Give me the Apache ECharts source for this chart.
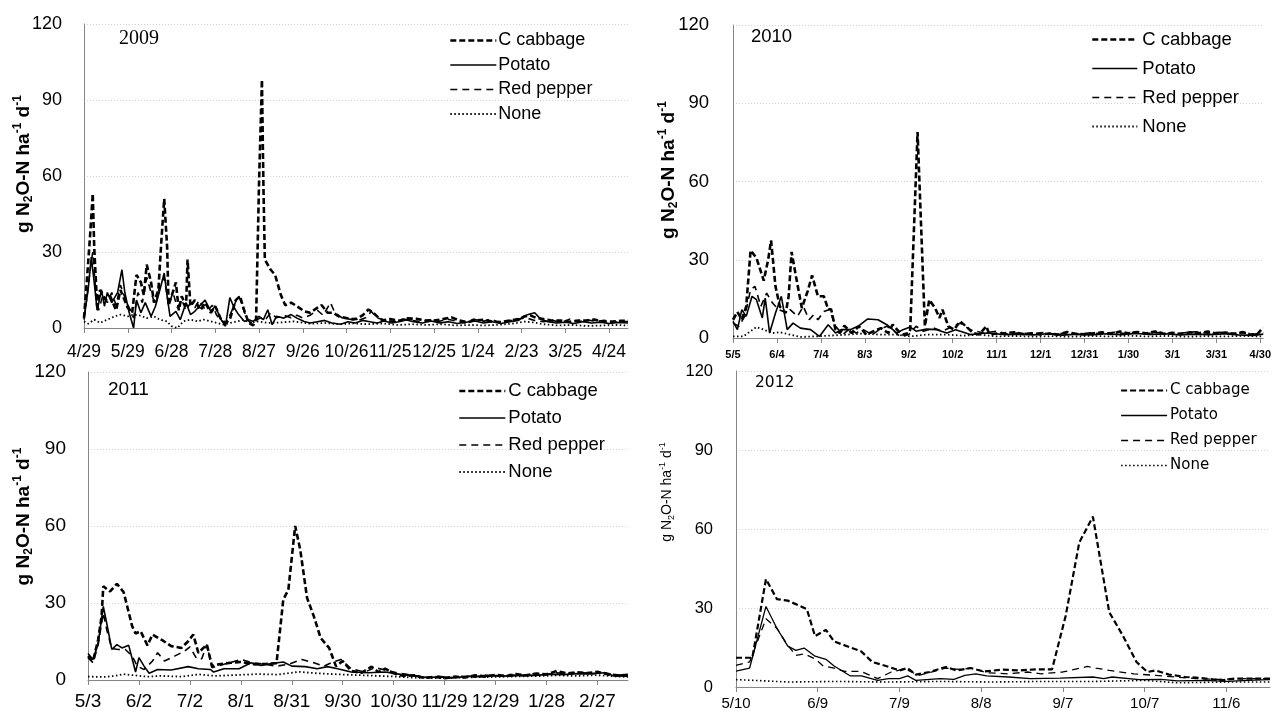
<!DOCTYPE html>
<html><head><meta charset="utf-8">
<script src="https://cdn.jsdelivr.net/npm/echarts@6/dist/echarts.min.js"></script>
<style>html,body{margin:0;padding:0;background:#fff}#c{width:1274px;height:711px}</style>
</head><body><div id="c"></div><script>
// ---- tick labels (one every 30 days from the first sampling date) ----
const ticks2009 = ['4/29','5/29','6/28','7/28','8/27','9/26','10/26','11/25','12/25','1/24','2/23','3/25','4/24'];
const ticks2010 = ['5/5','6/4','7/4','8/3','9/2','10/2','11/1','12/1','12/31','1/30','3/1','3/31','4/30'];
const ticks2011 = ['5/3','6/2','7/2','8/1','8/31','9/30','10/30','11/29','12/29','1/28','2/27'];
const ticks2012 = ['5/10','6/9','7/9','8/8','9/7','10/7','11/6'];
const seriesNames = ['C cabbage','Potato','Red pepper','None'];
const yearLabels = ['2009','2010','2011','2012'];
const axisDays = [373, 362, 318, 196];
const yTicks = [0, 30, 60, 90, 120];

// ---- series values: [day since first date, g N2O-N ha-1 d-1] ----
const cab2009 = [[0,3.9],[2,19],[4,35],[6,53],[7,32],[9,8.6],[11,15],[15,11],[18,12.5],[22,7],[25,15],[30,8],[33,6],[36,21],[39,18],[41,13],[43,25],[46,18],[48,10],[51,15],[53,34],[55,51],[57,32],[58,9],[60,12.5],[63,18],[65,7],[67,12.5],[70,8.6],[71,27],[73,8.6],[76,11],[80,7],[83,10],[87,6],[90,8.6],[94,3.3],[97,2],[100,3.3],[104,11],[107,12.5],[110,6.6],[113,2],[116,1],[118,3.3],[120,57],[122,98],[123,57],[124,27],[128,23],[131,21],[135,13],[138,9],[142,10],[146,8.6],[151,6.6],[155,6],[160,8],[163,9],[167,6],[171,6],[175,4.5],[179,4],[183,3.5],[187,3.6],[191,5],[195,7.3],[198,6.2],[202,4],[205,3],[210,3.5],[216,2.9],[222,3.8],[228,3.6],[234,3],[240,2.9],[246,3.5],[252,4.2],[257,3],[263,2.3],[268,3],[274,3.3],[280,2.5],[286,2.3],[292,3],[298,3.5],[302,4.5],[306,5],[310,4],[314,3.6],[320,3],[327,2.9],[333,2.5],[339,2.9],[345,3],[350,3.3],[356,2.5],[362,2.5],[368,2.8],[373,2.9]];
const pot2009 = [[0,3.3],[3,16],[5,28],[7,18],[9,7],[12,15],[14,8.6],[16,14],[19,10],[23,14],[26,23],[28,14],[31,6],[34,0],[36,11],[39,6],[42,10],[46,4.6],[49,8.6],[52,15],[55,21.7],[57,12.5],[59,4.6],[63,6.6],[66,3.3],[70,10],[73,5.3],[76,6.6],[80,9.2],[83,11],[87,6.6],[90,8.6],[94,3.3],[97,0.7],[100,12],[103,8],[106,5.3],[110,2.6],[113,3.3],[116,2.6],[120,4.6],[123,3.3],[126,7.2],[129,1.3],[132,4.6],[137,3.9],[142,5.3],[146,3.9],[151,2.6],[155,2],[160,2.5],[165,3],[170,2],[176,1.5],[181,2.5],[186,2],[191,3],[196,2.5],[201,2],[206,2.8],[211,2],[216,2.5],[221,3.2],[226,2.5],[232,2],[238,2.8],[244,2],[250,2.5],[256,1.8],[262,2.3],[268,2.8],[274,2],[280,2.5],[286,1.8],[292,2.5],[298,3],[301,4.5],[304,5.2],[309,6],[313,3.6],[318,2.5],[324,2],[330,2.3],[336,1.8],[342,2.5],[348,2],[354,2.3],[360,1.8],[366,2.2],[373,2]];
const pep2009 = [[0,4],[2,12],[4,22],[6,30],[8,15],[10,7],[13,13],[16,10],[19,14],[22,9],[25,17],[28,12],[31,8],[34,4],[37,14],[40,10],[43,20],[46,14],[49,9],[52,17],[55,20],[58,9],[61,14],[64,8],[67,11],[70,7],[73,10],[76,8],[79,11],[82,8],[85,7],[88,9],[91,5],[94,3],[97,2],[100,5],[103,9],[106,13],[109,8],[112,3],[115,2],[118,3],[121,4],[124,3],[128,6],[132,4],[137,5],[142,4],[146,5],[150,4],[155,5],[160,7],[164,5],[169,10],[172,6],[177,4],[182,3.5],[188,3],[193,4],[197,6.5],[201,4],[207,3],[213,2.5],[219,3.5],[225,3],[231,2.5],[237,3.2],[243,2.5],[249,3.5],[255,2.8],[261,2],[267,3.5],[273,2.5],[279,3.5],[285,2],[291,2.8],[297,3.5],[303,4],[309,3],[315,2.5],[321,3],[327,2.2],[333,3.5],[339,2.5],[345,3.2],[351,2.6],[357,3],[363,2.2],[368,2.6],[373,2.5]];
const non2009 = [[0,2.6],[3,1.7],[7,3.3],[11,2],[16,3.3],[21,4.6],[25,5.3],[30,4.6],[34,5.3],[39,4.9],[43,3.9],[48,4.6],[52,3.3],[57,2.6],[60,0.7],[64,0],[68,2.6],[73,3.3],[78,2.6],[82,3.3],[87,2.6],[91,2],[96,1.3],[100,2],[105,2.6],[110,3.3],[114,2],[119,2.6],[126,2],[135,2.2],[144,2.6],[155,1.7],[165,2],[175,1.5],[185,1.8],[195,1.5],[205,1.8],[215,1.2],[225,1.5],[235,1.2],[245,1.5],[255,1],[265,1.2],[275,1],[285,1.3],[295,1.8],[302,2.5],[308,2.2],[315,1.5],[325,1],[335,1.2],[345,0.8],[355,1],[365,1.2],[373,1]];

const cab2010 = [[0,7],[3,10],[6,7],[9,12],[12,33.6],[16,30.7],[21,22],[24,30],[26,37.4],[29,19.8],[32,12],[36,9.6],[38,16],[40,33],[43,23.6],[47,11.5],[51,18],[54,24],[58,16],[62,16],[65,11],[67,11],[70,3.2],[73,1.9],[76,4.7],[81,1.9],[86,4.5],[91,1.3],[96,2.6],[101,3.8],[106,1.9],[109,5.1],[113,2.6],[116,1.3],[120,1.9],[121,3.2],[126,79],[131,4.5],[134,14.7],[138,11.5],[141,7.7],[143,10.9],[147,4.5],[151,3.2],[155,6.4],[159,4.5],[164,1.9],[168,1.3],[173,4.5],[175,1.3],[180,1.7],[186,1.9],[192,2.2],[198,1.5],[204,1.8],[210,1.4],[216,1.7],[222,1.3],[228,2.3],[234,1.6],[240,1.4],[246,1.8],[252,2.2],[258,1.5],[264,2.5],[270,1.8],[276,2.3],[282,1.7],[288,2.5],[294,1.6],[300,2],[306,1.5],[312,2.2],[318,1.8],[324,2.5],[330,1.7],[336,2.1],[342,1.6],[348,2.3],[354,1.2],[358,1.5],[362,4]];
const pot2010 = [[0,6.4],[3,3.2],[6,10.9],[9,8.3],[13,16],[16,14.7],[20,7.7],[22,15.3],[25,1.9],[29,9.6],[33,16],[37,3.2],[41,5.7],[46,3.8],[53,3.2],[59,0.6],[65,5.1],[70,1.9],[74,3.2],[80,3.2],[86,4.7],[92,7.3],[99,7],[105,5.1],[112,1.9],[116,3.2],[121,4.2],[125,2.6],[132,3.4],[139,3.2],[146,1.9],[152,3.2],[162,1.3],[173,1.9],[186,1.3],[195,1.5],[205,1.2],[215,1.6],[225,1.1],[235,1.5],[245,1.2],[255,1.6],[265,1.3],[275,1.7],[285,1.4],[295,1.6],[305,1.2],[315,1.5],[325,1.3],[335,1.6],[345,1.2],[355,1],[362,1.5]];
const pep2010 = [[0,5.7],[4,4.5],[8,8.3],[12,18.5],[15,19.8],[19,12.1],[23,17.2],[27,13.4],[31,10.9],[37,9.6],[39,10.9],[44,8.3],[48,12.1],[52,7],[55,8.9],[58,7],[62,10.2],[66,10.9],[70,4.5],[75,1.3],[80,3.8],[84,1.9],[89,3.2],[95,1.3],[100,3.2],[105,4.5],[109,3.2],[114,0.6],[120,1.3],[125,4.5],[130,2.6],[137,3.8],[143,2.6],[150,4.5],[155,5.7],[162,3.2],[171,1.9],[180,2.6],[188,1.5],[196,2],[204,1.6],[212,2.1],[220,1.5],[228,1.9],[236,1.4],[244,2],[252,1.6],[260,2.2],[268,1.7],[276,2.4],[284,1.8],[292,2.2],[300,1.6],[308,2],[316,2.4],[324,1.8],[332,2.2],[340,1.7],[348,2],[356,1.5],[362,2]];
const non2010 = [[0,0.6],[7,0.6],[12,2.6],[16,4.2],[21,3.2],[27,1.9],[32,2.2],[39,1.3],[46,0.4],[55,0.6],[66,0.9],[78,1.3],[89,1.7],[100,1.3],[112,1.3],[121,0.6],[132,1.3],[146,1.3],[157,0.9],[168,1.3],[180,0.6],[192,0.8],[205,0.5],[218,0.7],[231,0.5],[244,0.8],[257,0.6],[270,0.9],[283,0.6],[296,0.8],[309,0.5],[322,0.7],[335,0.6],[348,0.8],[362,0.6]];

const cab2011 = [[0,9.3],[3,7.4],[6,15.8],[8,24.8],[9,36.5],[13,34.5],[17,37.5],[21,34.2],[26,21],[28,18.1],[31,19],[35,13.5],[38,17.7],[44,15.4],[49,13.2],[55,12.5],[59,15.1],[62,17.7],[65,10.6],[70,13.8],[73,5.4],[77,6.1],[84,6.7],[90,7],[98,6.1],[105,6.3],[111,6.5],[115,31.3],[118,35.2],[122,60],[125,50.7],[129,32],[133,24.8],[137,16.4],[142,12.5],[146,5.4],[150,7.4],[155,3.5],[161,2.8],[167,5.2],[171,3.1],[175,4.4],[180,2.6],[186,1.6],[192,1.8],[198,0.8],[204,1.2],[210,0.7],[216,1.3],[222,1],[228,1.8],[234,1.4],[240,2],[246,1.5],[252,2.3],[258,1.8],[264,2.5],[270,2.2],[276,3.5],[282,2.6],[288,3],[294,2.7],[300,3.2],[306,2.2],[312,1.8],[318,2]];
const pot2011 = [[0,10.3],[3,8],[6,14.5],[9,28.7],[11,22.2],[14,11.9],[17,13.8],[20,12.5],[24,13.5],[28,3.1],[30,8.7],[33,5.4],[36,2.6],[41,4.1],[49,3.9],[59,5.2],[65,4.4],[72,4.1],[74,3.1],[80,4.4],[89,4.4],[96,6.7],[102,5.7],[109,6.5],[115,7],[120,5.4],[128,5.2],[135,4.4],[141,5.2],[147,4.4],[155,3.1],[165,2.8],[175,3.1],[184,2.2],[192,1.6],[200,1],[208,1.2],[216,0.9],[224,1.5],[232,1.3],[240,1.7],[248,1.5],[256,1.9],[264,1.8],[272,2.3],[280,2.1],[288,2.5],[296,2.4],[304,2.8],[310,1.6],[318,1.5]];
const pep2011 = [[0,8.7],[3,6.7],[6,13.8],[9,26.1],[11,19.7],[14,12.2],[18,11.9],[22,11.9],[26,9.3],[29,5.4],[33,4.1],[38,7.4],[41,10.6],[45,7.4],[51,9.3],[57,11.3],[60,12.9],[64,8.3],[67,8.3],[70,13.8],[73,4.8],[80,6.1],[90,8],[97,6.7],[105,6.1],[111,5.4],[118,6.1],[126,8],[133,6.7],[139,5.4],[144,7],[149,8],[155,4.4],[163,3.1],[169,4.8],[175,3.9],[182,2.8],[192,1.8],[199,1],[206,1.5],[213,0.8],[220,1.4],[227,1.1],[234,1.9],[241,1.5],[248,2.1],[255,1.6],[262,2.4],[269,2],[276,2.8],[283,2.4],[290,2.9],[297,2.5],[304,2.9],[311,1.9],[318,2.2]];
const non2011 = [[0,1.3],[10,1.2],[16,1.6],[21,2.3],[26,1.9],[35,1.3],[43,1.6],[55,1.3],[65,2.2],[75,1.6],[86,1.9],[100,2.3],[112,2.1],[124,3.2],[135,2.6],[147,2.2],[159,1.9],[171,1.6],[182,1.3],[192,0.9],[204,0.7],[216,0.9],[228,1.1],[240,1.2],[252,1.4],[264,1.5],[276,1.8],[288,1.6],[300,1.9],[310,1.4],[318,1.2]];

const cab2012 = [[0,11.1],[6,11.1],[11,41],[15,33.4],[19,32.8],[26,29.6],[29,19.3],[33,21.7],[36,17.3],[41,15.4],[46,13.5],[50,9.5],[55,8],[60,6.3],[63,7.2],[66,4.7],[71,5.7],[77,7.6],[81,6.3],[86,7.2],[91,5.9],[98,6.6],[104,6.3],[110,6.7],[116,6.7],[121,27],[126,54.9],[131,64.7],[137,28.4],[142,19.5],[147,9.5],[151,5.7],[154,6.3],[159,4.7],[165,3.8],[171,3.4],[178,2.5],[183,3.2],[190,3.2],[196,3.2]];
const pot2012 = [[0,6],[5,7.2],[11,30.6],[15,22.3],[19,15.5],[22,13.9],[25,14.8],[29,11.7],[33,10.5],[36,8],[42,4.2],[46,4.2],[52,2.5],[56,3.2],[60,3.2],[63,4.2],[66,2.5],[75,3.2],[80,2.9],[84,4.4],[88,5],[92,4.2],[100,3.8],[108,3.2],[119,3.4],[131,3.8],[135,3.2],[138,3.8],[148,2.8],[156,2.9],[162,2.3],[172,2.5],[180,2.1],[188,2.5],[196,2.8]];
const pep2012 = [[0,8.2],[5,9.5],[11,25.9],[15,22.3],[19,15.8],[22,12],[25,12.6],[29,10.7],[32,8],[36,7.2],[40,5.9],[46,5.9],[52,3.2],[57,5.7],[62,6.9],[67,4.4],[72,5.7],[77,7.2],[82,6.7],[87,7.2],[92,5.4],[100,5],[107,5.7],[112,5],[120,5.7],[129,7.8],[132,7.2],[137,6.3],[146,5],[154,4.4],[161,3.8],[169,3.2],[177,2.9],[185,3.2],[196,3.2]];
const non2012 = [[0,2.8],[7,2.5],[19,1.9],[37,2.1],[56,1.9],[75,2.1],[94,1.9],[112,2.1],[131,2.1],[150,2.5],[162,1.6],[181,1.9],[196,1.9]];

// ---- assemble ----
const panelTicks = [ticks2009, ticks2010, ticks2011, ticks2012];
const panelData = [
  [cab2009, pot2009, pep2009, non2009],
  [cab2010, pot2010, pep2010, non2010],
  [cab2011, pot2011, pep2011, non2011],
  [cab2012, pot2012, pep2012, non2012]
];
const SANS = 'Liberation Sans, Arial, sans-serif';
const WIDE = 'DejaVu Sans, Verdana, sans-serif';
const layout = [
  {grid:{left:84, top:24, width:544, height:304},
   x:{font:17.5, weight:'normal', margin:15, family:SANS}, y:{font:18, margin:22},
   name:{font:19, weight:'bold', gap:49, shift:24},
   title:{left:119, top:29, font:'Liberation Serif, Times New Roman, serif', size:20},
   legend:{left:449, top:31.5, w:46, gap:6.5, font:18, family:SANS, pad:-3}, widths:[2.6,1.6,1.6,1.8]},
  {grid:{left:733, top:25, width:533, height:313},
   x:{font:11, weight:'bold', margin:11, family:SANS}, y:{font:18.5, margin:24},
   name:{font:19, weight:'bold', gap:53, shift:23},
   title:{left:751, top:27, font:SANS, size:18.5},
   legend:{left:1091, top:30, w:45, gap:10, font:18.5, family:SANS, pad:0}, widths:[2.6,1.6,1.6,1.8]},
  {grid:{left:88, top:372, width:540, height:308},
   x:{font:19, weight:'normal', margin:12, family:SANS}, y:{font:19, margin:22},
   name:{font:19, weight:'bold', gap:53, shift:19},
   title:{left:108, top:380, font:SANS, size:19},
   legend:{left:458, top:381.5, w:46, gap:8, font:18.5, family:SANS, pad:-2}, widths:[2.6,1.6,1.6,1.8]},
  {grid:{left:736, top:371, width:534, height:317},
   x:{font:15, weight:'normal', margin:9, family:SANS}, y:{font:16.5, margin:23},
   name:{font:14, weight:'normal', gap:60, shift:74},
   title:{left:755, top:375, font:WIDE, size:15.5},
   legend:{left:1120, top:383, w:46, gap:10, font:15, family:WIDE, pad:-2}, widths:[2.2,1.3,1.3,1.6]}
];
const dashes = [[6,3],'solid',[7,5],[1.5,2.5]];

const option = {
  animation:false, backgroundColor:'#fff',
  title:[], legend:[], grid:[], xAxis:[], yAxis:[], series:[]
};
layout.forEach((L, p) => {
  const ticks = panelTicks[p];
  const tickVals = ticks.map((_, i) => i * 30);
  option.grid.push(Object.assign({containLabel:false}, L.grid));
  option.title.push({text:yearLabels[p], left:L.title.left, top:L.title.top, padding:0,
    textStyle:{fontFamily:L.title.font, fontSize:L.title.size, fontWeight:'normal', color:'#000'}});
  option.xAxis.push({type:'value', gridIndex:p, min:0, max:axisDays[p], interval:30,
    axisLine:{show:true, lineStyle:{color:'#868686', width:1}},
    axisTick:{show:true, length:5, lineStyle:{color:'#868686'}, customValues:tickVals},
    splitLine:{show:false},
    axisLabel:{customValues:tickVals, color:'#000', fontFamily:L.x.family, fontSize:L.x.font,
      fontWeight:L.x.weight, margin:L.x.margin, hideOverlap:false,
      formatter:(v) => { const i = Math.round(v / 30); return (Math.abs(v - i * 30) < 1e-6 && ticks[i]) ? ticks[i] : ''; }}
  });
  const nf = L.name.font, nw = L.name.weight, small = Math.round(nf * 0.65);
  option.yAxis.push({type:'value', gridIndex:p, min:yTicks[0], max:yTicks[yTicks.length-1], interval:30,
    axisLine:{show:true, lineStyle:{color:'#868686', width:1}},
    axisTick:{show:false},
    splitLine:{show:true, lineStyle:{color:'#d4d4d4', type:[1,2], width:1}},
    axisLabel:{color:'#000', fontFamily:SANS, fontSize:L.y.font, margin:L.y.margin},
    name:'{a|g N}{sub|2}{a|O-N ha}{sup|-1}{a| d}{sup|-1}',
    nameLocation:'middle', nameGap:L.name.gap, nameRotate:90, nameMoveOverlap:false,
    nameTextStyle:{padding:[0,0,0,L.name.shift], rich:{
      a:{fontFamily:SANS, fontSize:nf, fontWeight:nw, color:'#000', lineHeight:nf+4},
      sub:{fontFamily:SANS, fontSize:small, fontWeight:nw, color:'#000', lineHeight:Math.round(nf*0.7), verticalAlign:'bottom'},
      sup:{fontFamily:SANS, fontSize:small, fontWeight:nw, color:'#000', lineHeight:Math.round(nf*0.7), verticalAlign:'top'}
    }}
  });
  option.legend.push({orient:'vertical', left:L.legend.left, top:L.legend.top, itemWidth:L.legend.w, itemHeight:14,
    itemGap:L.legend.gap, padding:0, selectedMode:false,
    textStyle:{fontFamily:L.legend.family, fontSize:L.legend.font, color:'#000', padding:[0,0,0,L.legend.pad]},
    data:seriesNames.map((n, s) => ({name:n, itemStyle:{opacity:0},
      lineStyle:{width:L.widths[s], type:dashes[s], color:'#000'}}))
  });
  panelData[p].forEach((d, s) => {
    option.series.push({name:seriesNames[s], type:'line', xAxisIndex:p, yAxisIndex:p, data:d,
      symbol:'none', showSymbol:false, silent:true, connectNulls:true,
      lineStyle:{color:'#000', width:L.widths[s], type:dashes[s]}, itemStyle:{color:'#000'}});
  });
});
const chart = echarts.init(document.getElementById('c'), null, {renderer:'canvas'});
chart.setOption(option);
</script></body></html>
